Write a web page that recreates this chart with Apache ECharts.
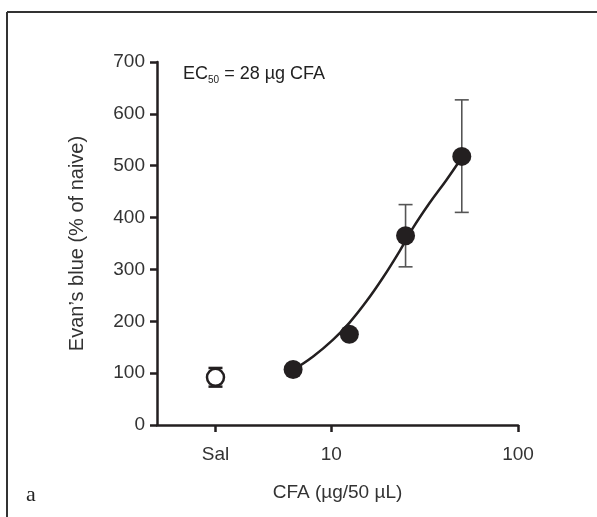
<!DOCTYPE html>
<html>
<head>
<meta charset="utf-8">
<script src="https://cdn.jsdelivr.net/npm/echarts@6/dist/echarts.min.js"></script>
<style>
  html, body { margin: 0; padding: 0; background: #fff; }
  #main { width: 597px; height: 517px; }
</style>
</head>
<body>
<div id="main"></div>
<script>
// Data
var salDose = 2.4; // where the saline group sits on the log axis
var salMean = 92;
var salErr = [74, 110];

var doses = [6.25, 12.5, 25, 50];
var means = [107, 175, 365, 518];
var errLow = [null, null, 305, 410];
var errHigh = [null, null, 425, 627];

// fitted curve
var curveX = [6.25, 8, 10.2, 12.5, 15.4, 18.9, 23.2, 27.4, 33.6, 41.3, 48.6, 50];
var curveY = [106, 132, 164, 197, 238, 284, 335, 380, 428, 472, 509, 517];

var xTicks = [salDose, 10, 100];

var font = "'Liberation Sans', Arial, sans-serif";
var ink = "#231f20";

var myChart = echarts.init(document.getElementById("main"));

var errData = [[salDose, salErr[0], salErr[1]]];
doses.forEach(function (d, i) {
  if (errLow[i] != null) errData.push([d, errLow[i], errHigh[i]]);
});

var option = {
  animation: false,
  backgroundColor: "#fff",
  grid: { left: 157, right: 79, top: 62, bottom: 92 },
  xAxis: {
    type: "log",
    logBase: 10,
    min: 1.167,
    max: 100,
    name: "CFA (µg/50 µL)",
    nameLocation: "middle",
    nameGap: 58,
    nameTextStyle: { fontFamily: font, fontSize: 19, color: "#333" },
    axisLine: { lineStyle: { color: ink, width: 2.5 } },
    axisTick: {
      customValues: xTicks,
      length: 7,
      lineStyle: { color: ink, width: 2.5 }
    },
    axisLabel: {
      customValues: xTicks,
      margin: 20,
      fontFamily: font,
      fontSize: 19,
      color: "#333",
      formatter: function (v) { return v < 5 ? "Sal" : String(Math.round(v)); }
    },
    splitLine: { show: false },
    minorTick: { show: false }
  },
  yAxis: {
    type: "value",
    min: 0,
    max: 700,
    interval: 100,
    name: "Evan\u2019s blue (% of naive)",
    nameLocation: "middle",
    nameGap: 70,
    nameTextStyle: { fontFamily: font, fontSize: 20, color: "#333" },
    axisLine: { show: true, lineStyle: { color: ink, width: 2.5 } },
    axisTick: { show: true, length: 7, lineStyle: { color: ink, width: 2.5 } },
    axisLabel: { margin: 12, fontFamily: font, fontSize: 19, color: "#333" },
    splitLine: { show: false }
  },
  graphic: [
    { type: "line", shape: { x1: 7, y1: 12, x2: 597, y2: 12 }, style: { stroke: "#333", lineWidth: 2 } },
    { type: "line", shape: { x1: 7, y1: 12, x2: 7, y2: 517 }, style: { stroke: "#333", lineWidth: 2 } },
    {
      type: "text",
      left: 183,
      top: 65,
      style: {
        text: "{m|EC}{s|50}{m| = 28 µg CFA}",
        rich: {
          m: { fontFamily: font, fontSize: 18, fill: "#222" },
          s: { fontFamily: font, fontSize: 10, fill: "#222", padding: [12, 0, 0, 0] }
        }
      }
    },
    {
      type: "text",
      left: 26,
      top: 484,
      style: { text: "a", fontFamily: "'Liberation Serif', serif", fontSize: 22, fill: "#222" }
    }
  ],
  series: [
    {
      type: "custom",
      name: "error",
      z: 2,
      data: errData,
      renderItem: function (params, api) {
        var x = api.value(0);
        var lo = api.coord([x, api.value(1)]);
        var hi = api.coord([x, api.value(2)]);
        var isSal = x < 5;
        var c = isSal ? ink : "#555";
        var w = isSal ? 2.5 : 1.6;
        var cap = 7;
        return {
          type: "group",
          children: [
            { type: "line", shape: { x1: lo[0], y1: lo[1], x2: hi[0], y2: hi[1] }, style: { stroke: c, lineWidth: w } },
            { type: "line", shape: { x1: lo[0] - cap, y1: lo[1], x2: lo[0] + cap, y2: lo[1] }, style: { stroke: c, lineWidth: w } },
            { type: "line", shape: { x1: hi[0] - cap, y1: hi[1], x2: hi[0] + cap, y2: hi[1] }, style: { stroke: c, lineWidth: w } }
          ]
        };
      }
    },
    {
      type: "line",
      name: "fit",
      z: 3,
      smooth: 0.4,
      showSymbol: false,
      data: curveX.map(function (x, i) { return [x, curveY[i]]; }),
      lineStyle: { color: ink, width: 2.5 }
    },
    {
      type: "scatter",
      name: "CFA",
      z: 4,
      symbolSize: 19,
      data: doses.map(function (d, i) { return [d, means[i]]; }),
      itemStyle: { color: ink, opacity: 1 }
    },
    {
      type: "scatter",
      name: "Saline",
      z: 4,
      symbolSize: 17,
      data: [[salDose, salMean]],
      itemStyle: { color: "#fff", borderColor: ink, borderWidth: 2.5, opacity: 1 }
    }
  ]
};

myChart.setOption(option);
</script>
</body>
</html>
